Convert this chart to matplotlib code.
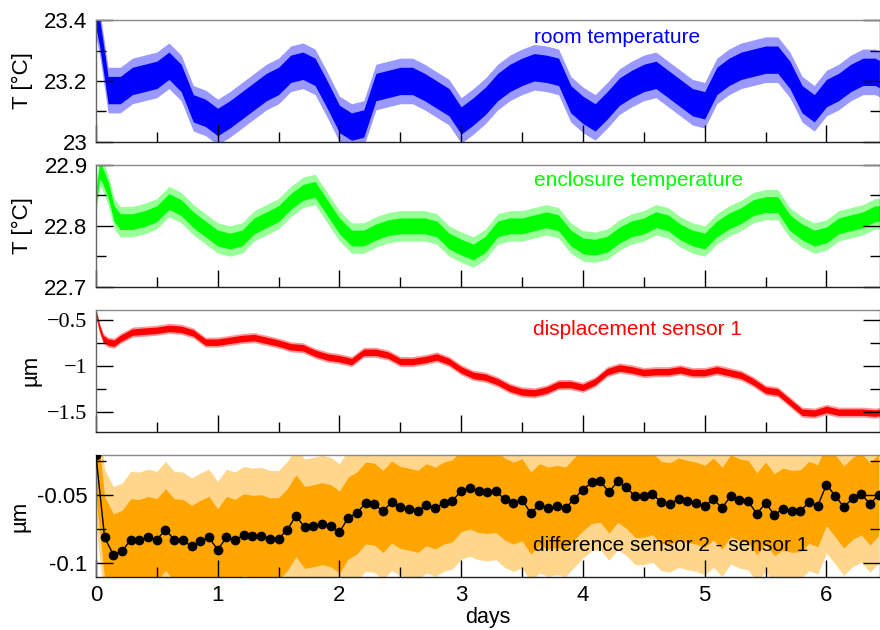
import matplotlib
matplotlib.use("Agg")
import matplotlib.pyplot as plt
from matplotlib.ticker import MultipleLocator

plt.rcParams["font.family"] = ["Liberation Sans", "DejaVu Sans"]
plt.rcParams["axes.unicode_minus"] = False

# room temperature, centre of the noisy trace [degC]
room_days = [0.0, 0.03, 0.06, 0.1, 0.2, 0.3, 0.4, 0.5, 0.6, 0.7, 0.8, 0.9,
             1.0, 1.1, 1.2, 1.3, 1.4, 1.5, 1.6, 1.7, 1.8, 1.9, 2.0, 2.1, 2.2,
             2.3, 2.4, 2.5, 2.6, 2.7, 2.8, 2.9, 3.0, 3.1, 3.2, 3.3, 3.4, 3.5,
             3.6, 3.7, 3.8, 3.9, 4.0, 4.1, 4.2, 4.3, 4.4, 4.5, 4.6, 4.7, 4.8,
             4.9, 5.0, 5.1, 5.2, 5.3, 5.4, 5.5, 5.6, 5.7, 5.8, 5.9, 6.0, 6.1,
             6.2, 6.3, 6.4, 6.45]
room_temp = [23.42, 23.36, 23.28, 23.17, 23.17, 23.20, 23.21, 23.22, 23.25,
             23.21, 23.11, 23.095, 23.065, 23.09, 23.12, 23.15, 23.18, 23.20,
             23.24, 23.25, 23.23, 23.155, 23.075, 23.05, 23.06, 23.18, 23.19,
             23.20, 23.20, 23.18, 23.155, 23.13, 23.07, 23.10, 23.135, 23.18,
             23.21, 23.23, 23.245, 23.24, 23.23, 23.14, 23.105, 23.08, 23.12,
             23.165, 23.19, 23.21, 23.22, 23.19, 23.16, 23.13, 23.12, 23.20,
             23.23, 23.25, 23.26, 23.27, 23.27, 23.22, 23.14, 23.11, 23.16,
             23.18, 23.21, 23.23, 23.23, 23.22]

# enclosure temperature [degC]
encl_days = [0.0, 0.03, 0.05, 0.1, 0.15, 0.2, 0.3, 0.4, 0.5, 0.6, 0.7, 0.8,
             0.9, 1.0, 1.1, 1.2, 1.3, 1.4, 1.5, 1.6, 1.7, 1.8, 1.9, 2.0, 2.1,
             2.2, 2.3, 2.4, 2.5, 2.6, 2.7, 2.8, 2.9, 3.0, 3.1, 3.2, 3.3, 3.4,
             3.5, 3.6, 3.7, 3.8, 3.9, 4.0, 4.1, 4.2, 4.3, 4.4, 4.5, 4.6, 4.7,
             4.8, 4.9, 5.0, 5.1, 5.2, 5.3, 5.4, 5.5, 5.6, 5.7, 5.8, 5.9, 6.0,
             6.1, 6.2, 6.3, 6.4, 6.45]
encl_temp = [22.845, 22.89, 22.885, 22.86, 22.82, 22.807, 22.807, 22.812,
             22.82, 22.84, 22.83, 22.81, 22.795, 22.78, 22.775, 22.78, 22.80,
             22.81, 22.82, 22.84, 22.855, 22.86, 22.83, 22.80, 22.78, 22.78,
             22.79, 22.797, 22.80, 22.80, 22.80, 22.795, 22.775, 22.765,
             22.757, 22.77, 22.795, 22.80, 22.80, 22.805, 22.81, 22.805,
             22.78, 22.767, 22.765, 22.77, 22.785, 22.795, 22.80, 22.81,
             22.805, 22.79, 22.78, 22.775, 22.795, 22.808, 22.817, 22.83,
             22.835, 22.835, 22.805, 22.79, 22.78, 22.785, 22.80, 22.805,
             22.81, 22.82, 22.82]

# displacement sensor 1 [um]
disp_days = [0.0, 0.03, 0.06, 0.1, 0.15, 0.2, 0.3, 0.4, 0.5, 0.6, 0.7, 0.8,
             0.9, 1.0, 1.1, 1.2, 1.3, 1.4, 1.5, 1.6, 1.7, 1.8, 1.9, 2.0, 2.1,
             2.2, 2.3, 2.4, 2.5, 2.6, 2.7, 2.8, 2.9, 3.0, 3.1, 3.2, 3.3, 3.4,
             3.5, 3.6, 3.7, 3.8, 3.9, 4.0, 4.1, 4.2, 4.3, 4.4, 4.5, 4.6, 4.7,
             4.8, 4.9, 5.0, 5.1, 5.2, 5.3, 5.4, 5.5, 5.6, 5.7, 5.8, 5.9, 6.0,
             6.1, 6.2, 6.3, 6.4, 6.45]
disp_um = [-0.42, -0.587, -0.70, -0.74, -0.75, -0.70, -0.63, -0.62, -0.61,
           -0.59, -0.60, -0.64, -0.74, -0.74, -0.72, -0.70, -0.69, -0.72,
           -0.75, -0.79, -0.80, -0.86, -0.90, -0.92, -0.95, -0.85, -0.85,
           -0.88, -0.95, -0.95, -0.93, -0.90, -0.95, -1.04, -1.10, -1.12,
           -1.17, -1.24, -1.28, -1.29, -1.26, -1.20, -1.20, -1.23, -1.17,
           -1.06, -1.02, -1.04, -1.07, -1.06, -1.06, -1.04, -1.07, -1.07,
           -1.04, -1.07, -1.10, -1.17, -1.26, -1.28, -1.39, -1.50, -1.51,
           -1.47, -1.50, -1.50, -1.50, -1.51, -1.50]

# difference sensor 2 - sensor 1, averaged every 1/14 day [um]
diff_avg = [-0.021,
            -0.0813, -0.0939, -0.0915, -0.0829, -0.0834, -0.0813, -0.0829,
            -0.0756, -0.0829, -0.0834, -0.0878, -0.0841, -0.0813, -0.0903,
            -0.0813, -0.0834, -0.0793, -0.0805, -0.0800, -0.0822, -0.0822,
            -0.0756, -0.0654, -0.0739, -0.0727, -0.0712, -0.0727, -0.0773,
            -0.0671, -0.0634, -0.0561, -0.0568, -0.0622, -0.0554, -0.0593,
            -0.0605, -0.0622, -0.0573, -0.0598, -0.0561, -0.0544, -0.0471,
            -0.0451, -0.0476, -0.0483, -0.0476, -0.0532, -0.0561, -0.0537,
            -0.0634, -0.0573, -0.0598, -0.0585, -0.0598, -0.0529, -0.0463,
            -0.0410, -0.0402, -0.0480, -0.0402, -0.0446, -0.0512, -0.0512,
            -0.0493, -0.0556, -0.0566, -0.0532, -0.0549, -0.0561, -0.0585,
            -0.0532, -0.0598, -0.0507, -0.0537, -0.0549, -0.0639, -0.0561,
            -0.0646, -0.0605, -0.0622, -0.0617, -0.0556, -0.0580, -0.0427,
            -0.0507, -0.0590, -0.0527, -0.0493, -0.0568, -0.0500]
diff_days = [k / 14 for k in range(len(diff_avg))]

# spread of the noise around each trace: (core, spikes)
room_spread = (0.045, 0.075)
encl_spread = (0.013, 0.025)
disp_spread = (0.035, 0.055)
diff_spread = (0.03, 0.05)

day_ticks = [0, 1, 2, 3, 4, 5, 6]
disp_ticks = [-0.5, -1.0, -1.5]
disp_ticklabels = ["\u22120.5", "\u22121", "\u22121.5"]
diff_ticks = [-0.05, -0.1]
diff_ticklabels = ["-0.05", "-0.1"]


def band(ax, x, y, spread, color, fringe=0.4):
    core, spike = spread
    lo = [v - spike for v in y]
    hi = [v + spike for v in y]
    ax.fill_between(x, lo, hi, color=color, alpha=fringe, lw=0)
    lo = [v - core for v in y]
    hi = [v + core for v in y]
    ax.fill_between(x, lo, hi, color=color, lw=0)


def style(ax):
    ax.set_xlim(0, 6.44)
    ax.xaxis.set_major_locator(MultipleLocator(1))
    ax.xaxis.set_minor_locator(MultipleLocator(0.5))
    ax.tick_params(which="both", direction="in", left=True, right=True,
                   top=False, bottom=True, labelsize=16, width=1, pad=6)
    ax.tick_params(which="major", length=12)
    ax.tick_params(which="minor", length=7)
    ax.spines["top"].set_color("#888888")
    ax.spines["left"].set_color("#666666")
    ax.spines["right"].set_color("#666666")
    ax.spines["bottom"].set_color("#222222")
    for s in ax.spines.values():
        s.set_linewidth(1)


fig = plt.figure(figsize=(8.8, 6.3), dpi=100)
left, width, height = 0.109, 0.891, 0.193
ax1 = fig.add_axes([left, 0.775, width, height])
ax2 = fig.add_axes([left, 0.545, width, height])
ax3 = fig.add_axes([left, 0.315, width, height])
ax4 = fig.add_axes([left, 0.0846, width, height])

# room temperature
band(ax1, room_days, room_temp, room_spread, "#0000ff")
style(ax1)
ax1.set_ylim(23.0, 23.4)
ax1.set_yticks([23.0, 23.2, 23.4])
ax1.set_yticklabels(["23", "23.2", "23.4"])
ax1.yaxis.set_minor_locator(MultipleLocator(0.1))
ax1.set_xticklabels([])
ax1.set_ylabel("T [°C]", fontsize=16)
ax1.yaxis.set_label_coords(-0.080, 0.5)
ax1.text(0.5587, 0.86, "room temperature", transform=ax1.transAxes,
         color="#0000ff", fontsize=15, va="center", ha="left")

# enclosure temperature
band(ax2, encl_days, encl_temp, encl_spread, "#00ff00")
style(ax2)
ax2.set_ylim(22.7, 22.9)
ax2.set_yticks([22.7, 22.8, 22.9])
ax2.set_yticklabels(["22.7", "22.8", "22.9"])
ax2.yaxis.set_minor_locator(MultipleLocator(0.05))
ax2.set_xticklabels([])
ax2.set_ylabel("T [°C]", fontsize=16)
ax2.yaxis.set_label_coords(-0.080, 0.5)
ax2.text(0.5587, 0.877, "enclosure temperature", transform=ax2.transAxes,
         color="#00ff00", fontsize=15, va="center", ha="left")

# displacement sensor 1
band(ax3, disp_days, disp_um, disp_spread, "#ff0000")
style(ax3)
ax3.set_ylim(-1.71, -0.39)
ax3.set_yticks(disp_ticks)
ax3.set_yticklabels(disp_ticklabels, family="Liberation Serif", fontsize=16)
ax3.yaxis.set_minor_locator(MultipleLocator(0.25))
ax3.set_xticklabels([])
ax3.set_ylabel("µm", fontsize=16)
ax3.yaxis.set_label_coords(-0.069, 0.5)
ax3.text(0.5575, 0.836, "displacement sensor 1", transform=ax3.transAxes,
         color="#ff0000", fontsize=15, va="center", ha="left")

# difference of the two sensors with its averages
band(ax4, diff_days, diff_avg, diff_spread, "#ffa500", fringe=0.45)
ax4.plot(diff_days, diff_avg, color="black", lw=1, marker="o",
         markersize=6, zorder=3)
style(ax4)
ax4.set_ylim(-0.11, -0.021)
ax4.set_yticks(diff_ticks)
ax4.set_yticklabels(diff_ticklabels)
ax4.yaxis.set_minor_locator(MultipleLocator(0.025))
ax4.set_xticks(day_ticks)
ax4.set_xticklabels([str(d) for d in day_ticks])
ax4.set_xlabel("days", fontsize=15.5, labelpad=1)
ax4.set_ylabel("µm", fontsize=16)
ax4.yaxis.set_label_coords(-0.084, 0.5)
ax4.text(0.5575, 0.26, "difference sensor 2 - sensor 1",
         transform=ax4.transAxes, color="black", fontsize=15,
         va="center", ha="left", zorder=4)

fig.savefig("out.png", dpi=100)
